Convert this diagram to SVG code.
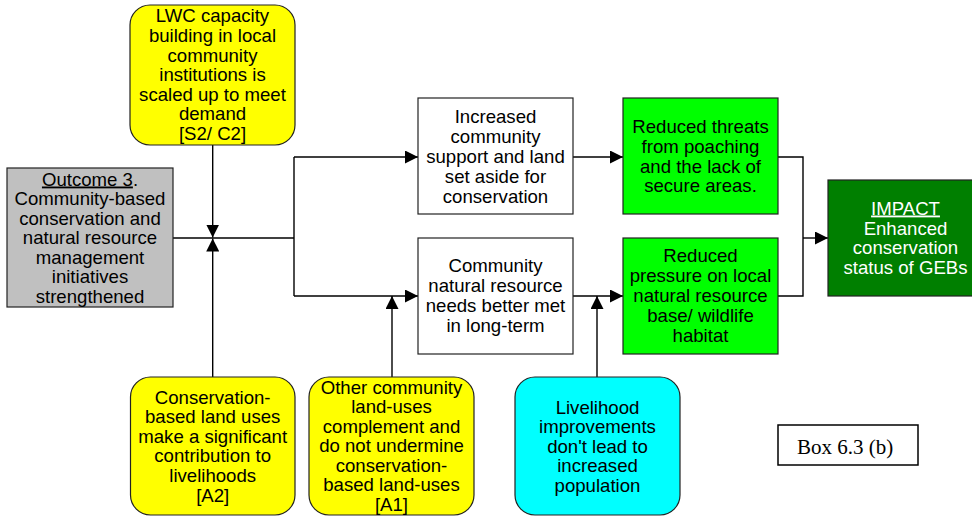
<svg xmlns="http://www.w3.org/2000/svg" width="972" height="516" viewBox="0 0 972 516">
<defs>
<style>
.t{font-family:"Liberation Sans",Arial,sans-serif;font-size:18.6px;fill:#000;text-anchor:middle}
.w{fill:#fff}
.b{stroke:#222;stroke-width:1.2}
.c{fill:none;stroke:#000;stroke-width:1.4}
.u{text-decoration:underline}
</style>
<marker id="ah" viewBox="0 0 13 13" refX="13" refY="6.5" markerWidth="13" markerHeight="13" markerUnits="userSpaceOnUse" orient="auto">
<path d="M0,0 L13,6.5 L0,13 Z" fill="#000"/>
</marker>
</defs>
<rect width="972" height="516" fill="#fff"/>
<g id="connectors">
<path class="c" d="M173,238 H294"/>
<path class="c" d="M294,157 V296"/>
<path class="c" d="M294,157 H418" marker-end="url(#ah)"/>
<path class="c" d="M294,296 H418" marker-end="url(#ah)"/>
<path class="c" d="M212.7,145 V237.5" marker-end="url(#ah)"/>
<path class="c" d="M212.7,377 V238.5" marker-end="url(#ah)"/>
<path class="c" d="M392,377 V296" marker-end="url(#ah)"/>
<path class="c" d="M597,377 V296" marker-end="url(#ah)"/>
<path class="c" d="M573,157 H623" marker-end="url(#ah)"/>
<path class="c" d="M573,296 H623" marker-end="url(#ah)"/>
<path class="c" d="M778,157 H803 V296 H778"/>
<path class="c" d="M803,238 H828" marker-end="url(#ah)"/>
</g>
<g id="lwc">
<rect class="b" x="130" y="5" width="165" height="140" rx="20" fill="#ffff00"/>
<text class="t"><tspan x="212.5" y="22">LWC capacity</tspan><tspan x="212.5" y="42">building in local</tspan><tspan x="212.5" y="61.5">community</tspan><tspan x="212.5" y="81">institutions is</tspan><tspan x="212.5" y="100.5">scaled up to meet</tspan><tspan x="212.5" y="120">demand</tspan><tspan x="212.5" y="139.5">[S2/ C2]</tspan></text>
</g>
<g id="outcome3">
<rect class="b" x="7" y="168" width="166" height="139" fill="#c0c0c0"/>
<text class="t"><tspan x="90" y="185.5"><tspan class="u">Outcome 3</tspan>.</tspan><tspan x="90" y="205">Community-based</tspan><tspan x="90" y="224.5">conservation and</tspan><tspan x="90" y="244">natural resource</tspan><tspan x="90" y="263.5">management</tspan><tspan x="90" y="283">initiatives</tspan><tspan x="90" y="302.5">strengthened</tspan></text>
</g>
<g id="increased">
<rect class="b" x="418" y="98" width="155" height="116" fill="#fff"/>
<text class="t"><tspan x="495.5" y="123">Increased</tspan><tspan x="495.5" y="143">community</tspan><tspan x="495.5" y="163">support and land</tspan><tspan x="495.5" y="182.5">set aside for</tspan><tspan x="495.5" y="202.5">conservation</tspan></text>
</g>
<g id="needs">
<rect class="b" x="418" y="238" width="155" height="116" fill="#fff"/>
<text class="t"><tspan x="495.5" y="272">Community</tspan><tspan x="495.5" y="292">natural resource</tspan><tspan x="495.5" y="311.5">needs better met</tspan><tspan x="495.5" y="331.5">in long-term</tspan></text>
</g>
<g id="threats">
<rect class="b" x="623" y="98" width="155" height="116" fill="#00ff00"/>
<text class="t"><tspan x="700.5" y="133">Reduced threats</tspan><tspan x="700.5" y="153">from poaching</tspan><tspan x="700.5" y="172.5">and the lack of</tspan><tspan x="700.5" y="192">secure areas.</tspan></text>
</g>
<g id="pressure">
<rect class="b" x="623" y="238" width="155" height="116" fill="#00ff00"/>
<text class="t"><tspan x="700.5" y="262">Reduced</tspan><tspan x="700.5" y="282">pressure on local</tspan><tspan x="700.5" y="302">natural resource</tspan><tspan x="700.5" y="322">base/ wildlife</tspan><tspan x="700.5" y="341.5">habitat</tspan></text>
</g>
<g id="impact">
<rect class="b" x="828" y="180" width="155" height="116" fill="#007f00"/>
<text class="t w"><tspan x="905.5" y="214.5" class="u">IMPACT</tspan><tspan x="905.5" y="234.5">Enhanced</tspan><tspan x="905.5" y="254">conservation</tspan><tspan x="905.5" y="273.5">status of GEBs</tspan></text>
</g>
<g id="a2">
<rect class="b" x="130.5" y="377" width="164.5" height="138" rx="20" fill="#ffff00"/>
<text class="t"><tspan x="212.7" y="403.5">Conservation-</tspan><tspan x="212.7" y="423">based land uses</tspan><tspan x="212.7" y="442.5">make a significant</tspan><tspan x="212.7" y="462">contribution to</tspan><tspan x="212.7" y="481.5">livelihoods</tspan><tspan x="212.7" y="501.5">[A2]</tspan></text>
</g>
<g id="a1">
<rect class="b" x="309" y="377" width="165" height="138" rx="20" fill="#ffff00"/>
<text class="t"><tspan x="391.5" y="393.5">Other community</tspan><tspan x="391.5" y="413">land-uses</tspan><tspan x="391.5" y="432.5">complement and</tspan><tspan x="391.5" y="452">do not undermine</tspan><tspan x="391.5" y="471.5">conservation-</tspan><tspan x="391.5" y="491">based land-uses</tspan><tspan x="391.5" y="511">[A1]</tspan></text>
</g>
<g id="livelihood">
<rect class="b" x="515" y="377" width="165" height="138" rx="20" fill="#00ffff"/>
<text class="t"><tspan x="597.5" y="413.5">Livelihood</tspan><tspan x="597.5" y="433">improvements</tspan><tspan x="597.5" y="452.5">don't lead to</tspan><tspan x="597.5" y="472">increased</tspan><tspan x="597.5" y="491.5">population</tspan></text>
</g>
<g id="boxlabel">
<rect x="778" y="425" width="140" height="40" fill="#fff" stroke="#000" stroke-width="1.5"/>
<text x="845" y="454" font-family="'Liberation Serif','Times New Roman',serif" font-size="21" text-anchor="middle" fill="#000">Box 6.3 (b)</text>
</g>
</svg>
